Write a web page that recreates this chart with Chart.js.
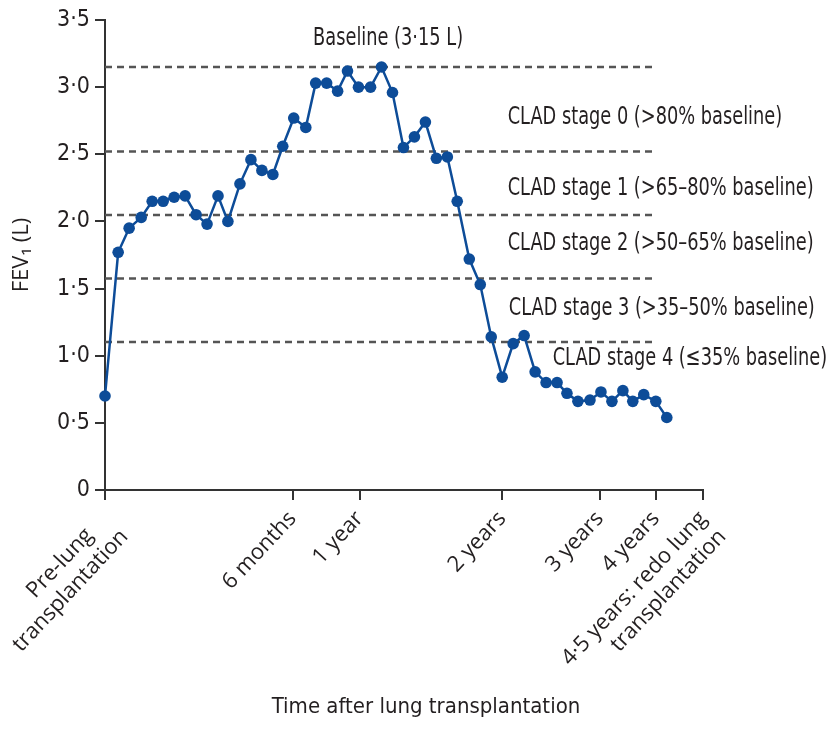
<!DOCTYPE html>
<html>
<head>
<meta charset="utf-8">
<script src="https://cdn.jsdelivr.net/npm/chart.js@4.4.1/dist/chart.umd.min.js"></script>
<style>
  html, body { margin: 0; padding: 0; background: #fff; }
  #wrap { width: 837px; height: 750px; }
</style>
</head>
<body>
<div id="wrap"><canvas id="chart"></canvas></div>
<script>
'use strict';

// visit positions (in visit units) and FEV1 values
const visits = [0, 1.2, 2.2, 3.3, 4.3, 5.3, 6.3, 7.3, 8.3, 9.3, 10.3, 11.2, 12.3, 13.3, 14.3, 15.3,
  16.2, 17.2, 18.3, 19.2, 20.2, 21.2, 22.1, 23.1, 24.2, 25.2, 26.2, 27.2, 28.2, 29.2, 30.2, 31.2,
  32.1, 33.2, 34.2, 35.2, 36.2, 37.2, 38.2, 39.2, 40.2, 41.2, 42.1, 43.1, 44.2, 45.2, 46.2, 47.2,
  48.1, 49.1, 50.2, 51.2];
const fev1 = [0.70, 1.77, 1.95, 2.03, 2.15, 2.15, 2.18, 2.19, 2.05, 1.98, 2.19, 2.00, 2.28, 2.46,
  2.38, 2.35, 2.56, 2.77, 2.70, 3.03, 3.03, 2.97, 3.12, 3.00, 3.00, 3.15, 2.96, 2.55, 2.63, 2.74,
  2.47, 2.48, 2.15, 1.72, 1.53, 1.14, 0.84, 1.09, 1.15, 0.88, 0.80, 0.80, 0.72, 0.66, 0.67, 0.73,
  0.66, 0.74, 0.66, 0.71, 0.66, 0.54];

const xTickValues = [0, 17.1, 23.2, 36.2, 45.1, 50.2, 54.5];
const xTickLabels = [
  ['Pre-lung    ', 'transplantation'],
  '6 months',
  '1 year',
  '2 years',
  '3 years',
  '4 years',
  ['4·5 years: redo lung', 'transplantation']
];
const yTickValues = [0, 0.5, 1, 1.5, 2, 2.5, 3, 3.5];

const baseline = 3.15;
const stageFractions = [1, 0.8, 0.65, 0.5, 0.35];
const stageLineExtent = [0, 50];
const stageLabels = [
  'Baseline (3·15 L)',
  'CLAD stage 0 (>80% baseline)',
  'CLAD stage 1 (>65–80% baseline)',
  'CLAD stage 2 (>50–65% baseline)',
  'CLAD stage 3 (>35–50% baseline)',
  'CLAD stage 4 (≤35% baseline)'
];

const narrow = '"DejaVu Sans Condensed", "Liberation Sans Narrow", sans-serif';
const humanist = '"Open Sans", "DejaVu Sans", sans-serif';
const ink = '#231f20';
const blue = '#0d4c98';

const thresholdSets = stageFractions.map(f => ({
  data: stageLineExtent.map(x => ({ x: x, y: baseline * f })),
  borderColor: '#555',
  borderWidth: 2.5,
  borderDash: [7, 5],
  pointRadius: 0,
  fill: false,
  order: 1
}));

// text annotations placed in data coordinates, squeezed to a condensed look
const stageText = {
  id: 'stageText',
  afterDraw(chart, args, opts) {
    const {ctx, scales: {x, y}} = chart;
    const sx = opts.squeeze;
    ctx.save();
    ctx.font = '25px ' + narrow;
    ctx.fillStyle = ink;
    ctx.textBaseline = 'middle';
    ctx.scale(sx, 1);
    opts.spots.forEach((s, i) => {
      ctx.textAlign = s.align;
      ctx.fillText(stageLabels[i], x.getPixelForValue(s.x) / sx, y.getPixelForValue(s.y));
    });
    ctx.restore();
  }
};

const ctx = document.querySelector('#chart').getContext('2d');
const chart = new Chart(ctx, {
  type: 'line',
  data: {
    datasets: [{
      data: visits.map((v, i) => ({ x: v, y: fev1[i] })),
      borderColor: blue,
      backgroundColor: blue,
      borderWidth: 2.5,
      pointRadius: 5.8,
      pointBorderWidth: 0,
      tension: 0,
      clip: false,
      order: 0
    }].concat(thresholdSets)
  },
  options: {
    responsive: true,
    maintainAspectRatio: false,
    animation: false,
    events: [],
    layout: { padding: { left: 0, top: 20, right: 134, bottom: 0 } },
    plugins: {
      legend: { display: false },
      tooltip: { enabled: false },
      stageText: {
        squeeze: 0.79,
        spots: [
          { x: 25.8, y: 3.36, align: 'center' },
          { x: 36.7, y: 2.775, align: 'left' },
          { x: 36.7, y: 2.247, align: 'left' },
          { x: 36.7, y: 1.838, align: 'left' },
          { x: 36.8, y: 1.354, align: 'left' },
          { x: 40.8, y: 0.982, align: 'left' }
        ]
      }
    },
    scales: {
      x: {
        type: 'linear',
        min: 0,
        max: 54.5,
        afterBuildTicks: s => { s.ticks = xTickValues.map(v => ({ value: v })); },
        afterFit: s => { s.height = 260; s.paddingLeft = 0; s.paddingRight = 0; },
        grid: { drawOnChartArea: false, tickLength: 10, color: '#333', lineWidth: 2 },
        border: { color: '#333', width: 2 },
        ticks: {
          autoSkip: false,
          minRotation: 47,
          maxRotation: 47,
          padding: 6,
          color: ink,
          font: { family: humanist, size: 22 },
          callback: (v, i) => xTickLabels[i]
        },
        title: {
          display: true,
          text: '       Time after lung transplantation',
          color: ink,
          font: { family: narrow, size: 22 },
          padding: { top: 0, bottom: 30 }
        }
      },
      y: {
        min: 0,
        max: 3.5,
        afterBuildTicks: s => { s.ticks = yTickValues.map(v => ({ value: v })); },
        afterFit: s => { s.width = 105; },
        grid: { drawOnChartArea: false, tickLength: 10, color: '#333', lineWidth: 2 },
        border: { color: '#333', width: 2 },
        ticks: {
          padding: 5,
          color: ink,
          font: { family: narrow, size: 23 },
          callback: v => v === 0 ? '0' : v.toFixed(1).replace('.', '·')
        },
        title: {
          display: true,
          text: 'FEV₁ (L)',
          color: ink,
          font: { family: humanist, size: 22 },
          padding: { top: 9, bottom: 0 }
        }
      }
    }
  },
  plugins: [stageText]
});
</script>
</body>
</html>
